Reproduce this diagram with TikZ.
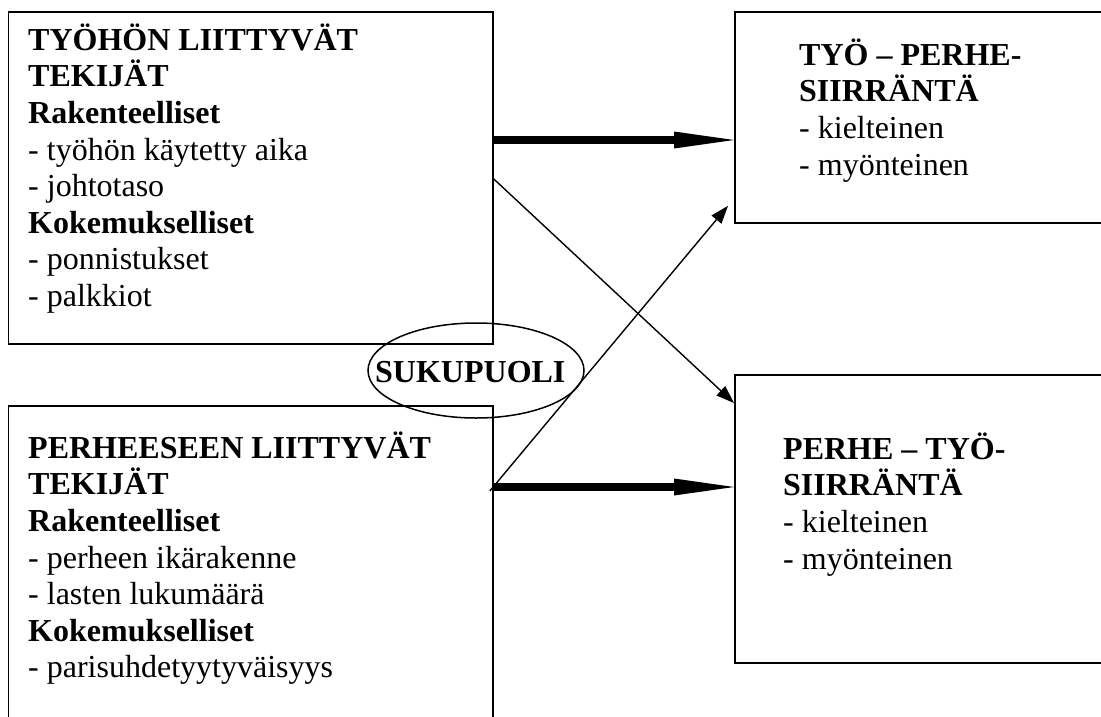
\documentclass[tikz,border=0pt]{standalone}
\usepackage{fontspec}
\setmainfont{Liberation Serif}
\usetikzlibrary{arrows.meta}
\begin{document}
\begin{tikzpicture}[x=1pt,y=-1pt,
  box/.style={draw, line width=1.8pt, inner sep=0pt, anchor=north west},
  txt/.style={anchor=north west, inner sep=0pt, align=left, font=\fontsize{32pt}{36.6pt}\selectfont},
  bigarrow/.style={line width=7.5pt, -{Triangle[length=60pt,width=17pt,line width=0pt]}},
  thinarrow/.style={line width=1.4pt, -{Triangle[length=18pt,width=13pt,line width=0pt]}}]
\useasboundingbox (0,0) rectangle (1101,716);
\clip (0,0) rectangle (1101,716);
% boxes
\node[box, minimum width=484.5pt, minimum height=332pt] (A) at (7.5,11) {};
\node[box, minimum width=484.5pt, minimum height=340pt] (B) at (7.5,405) {};
\node[box, minimum width=400pt, minimum height=211pt] (C) at (734,11) {};
\node[box, minimum width=400pt, minimum height=288pt] (D) at (734,374) {};
% texts
\node[txt] (Atext) at (28,20) {\rule{0pt}{30pt}\textbf{TYÖHÖN LIITTYVÄT}\\\textbf{TEKIJÄT}\\\textbf{Rakenteelliset}\\- työhön käytetty aika\\- johtotaso\\\textbf{Kokemukselliset}\\- ponnistukset\\- palkkiot};
\node[txt] (Btext) at (28,428) {\rule{0pt}{30pt}\textbf{PERHEESEEN LIITTYVÄT}\\\textbf{TEKIJÄT}\\\textbf{Rakenteelliset}\\- perheen ikärakenne\\- lasten lukumäärä\\\textbf{Kokemukselliset}\\- parisuhdetyytyväisyys};
\node[txt] (Ctext) at (799,35) {\rule{0pt}{30pt}\textbf{TYÖ – PERHE-}\\\textbf{SIIRRÄNTÄ}\\- kielteinen\\- myönteinen};
\node[txt] (Dtext) at (783,429) {\rule{0pt}{30pt}\textbf{PERHE – TYÖ-}\\\textbf{SIIRRÄNTÄ}\\- kielteinen\\- myönteinen};
% gender ellipse
\node[anchor=base west, inner sep=0pt, font=\fontsize{32pt}{36.6pt}\selectfont\bfseries] (S) at (375,382) {SUKUPUOLI};
\draw[line width=1.5pt] (476,370.5) ellipse [x radius=108pt, y radius=47.5pt];
% connectors
\draw[bigarrow] ([yshift=-129pt]A.north east) -- ([yshift=-129pt]C.north west);
\draw[bigarrow] ([yshift=-82pt]B.north east) -- ([yshift=-113pt]D.north west);
\draw[thinarrow] ([yshift=-168pt]A.north east) -- ([yshift=-29pt]D.north west);
\draw[thinarrow] ([xshift=-4pt,yshift=-86pt]B.north east) -- ([xshift=-6pt,yshift=18pt]C.south west);
\end{tikzpicture}
\end{document}
